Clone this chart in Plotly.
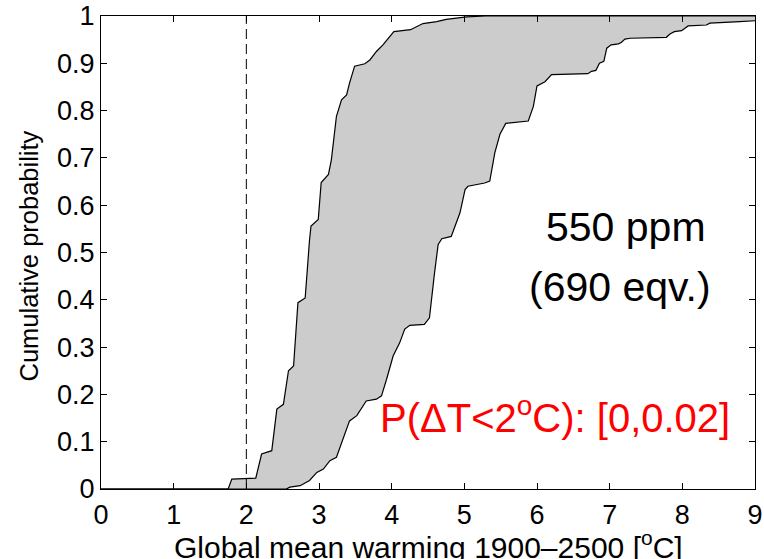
import plotly.graph_objects as go

# Upper bound CDF (left curve)
hi_x = [0, 1.75, 1.80, 2.13, 2.21, 2.35, 2.42, 2.51, 2.58, 2.65, 2.71, 2.81, 2.87, 2.89,
        2.99, 3.03, 3.13, 3.17, 3.24, 3.31, 3.38, 3.42, 3.49, 3.63, 3.70, 3.79, 3.88,
        3.95, 4.03, 4.26, 4.43, 4.62, 4.75, 5.03, 5.30, 9.0]
hi_y = [0, 0, 0.021, 0.023, 0.074, 0.081, 0.169, 0.179, 0.25, 0.26, 0.394, 0.404, 0.527,
        0.556, 0.57, 0.648, 0.665, 0.696, 0.788, 0.823, 0.833, 0.858, 0.894, 0.899, 0.907,
        0.925, 0.939, 0.953, 0.967, 0.971, 0.984, 0.988, 0.993, 0.998, 1.0, 1.0]

# Lower bound CDF (right curve)
lo_x = [0, 2.55, 2.60, 2.74, 2.87, 2.97, 3.06, 3.15, 3.24, 3.33, 3.42, 3.52, 3.65, 3.79,
        3.86, 3.93, 4.02, 4.11, 4.18, 4.25, 4.45, 4.52, 4.57, 4.59, 4.64, 4.69, 4.82, 4.94,
        5.01, 5.05, 5.28, 5.35, 5.42, 5.49, 5.57, 5.88, 5.95, 6.00, 6.11, 6.20, 6.70, 6.75,
        6.81, 6.86, 6.92, 6.96, 7.02, 7.12, 7.16, 7.21, 7.28, 7.78, 7.83, 7.89, 7.99, 8.08,
        8.33, 8.38, 8.79, 9.0]
lo_y = [0, 0, 0.004, 0.007, 0.018, 0.035, 0.042, 0.06, 0.067, 0.105, 0.144, 0.155, 0.186,
        0.19, 0.197, 0.232, 0.281, 0.309, 0.338, 0.346, 0.348, 0.362, 0.436, 0.457, 0.517,
        0.529, 0.534, 0.584, 0.633, 0.64, 0.647, 0.651, 0.711, 0.75, 0.773, 0.778, 0.809,
        0.852, 0.861, 0.876, 0.878, 0.883, 0.885, 0.9, 0.904, 0.932, 0.939, 0.941, 0.944,
        0.951, 0.953, 0.955, 0.962, 0.967, 0.969, 0.979, 0.981, 0.985, 0.988, 0.99]

x_ticks = list(range(0, 10))
y_ticks = [0, 0.1, 0.2, 0.3, 0.4, 0.5, 0.6, 0.7, 0.8, 0.9, 1]
y_ticklabels = ["0", "0.1", "0.2", "0.3", "0.4", "0.5", "0.6", "0.7", "0.8", "0.9", "1"]
threshold = 2

FONT = "Liberation Sans, Arial, sans-serif"

fig = go.Figure()
fig.add_trace(go.Scatter(
    x=hi_x + lo_x[::-1], y=hi_y + lo_y[::-1], mode="lines", fill="toself",
    fillcolor="#cccccc", line=dict(width=0), hoverinfo="skip", showlegend=False))
fig.add_trace(go.Scatter(x=hi_x, y=hi_y, mode="lines",
                         line=dict(color="black", width=1.2), showlegend=False))
fig.add_trace(go.Scatter(x=lo_x, y=lo_y, mode="lines",
                         line=dict(color="black", width=1.2), showlegend=False))
fig.add_trace(go.Scatter(x=[threshold, threshold], y=[0, 1], mode="lines",
                         line=dict(color="black", width=1, dash="10px,5px"),
                         showlegend=False))

fig.add_annotation(x=7.22, y=0.552, text="550 ppm", showarrow=False, yshift=1,
                   font=dict(family=FONT, size=41, color="black"),
                   xanchor="center", yanchor="middle")
fig.add_annotation(x=7.14, y=0.42, text="(690 eqv.)", showarrow=False, yshift=3,
                   font=dict(family=FONT, size=41, color="black"),
                   xanchor="center", yanchor="middle")
fig.add_annotation(x=6.25, y=0.152, text="P(ΔT<2<sup>o</sup>C): [0,0.02]", showarrow=False,
                   yshift=2, font=dict(family=FONT, size=40, color="red"),
                   xanchor="center", yanchor="middle")

# Axis titles as annotations for precise placement
fig.add_annotation(x=0.5, y=0, xref="paper", yref="paper", yshift=-35,
                   text="Global mean warming 1900–2500 [<sup>o</sup>C]", showarrow=False,
                   font=dict(family=FONT, size=30, color="black"),
                   xanchor="center", yanchor="top")
fig.add_annotation(x=0, y=0.5, xref="paper", yref="paper", xshift=-73, yshift=-4,
                   text="Cumulative probability", showarrow=False, textangle=-90,
                   font=dict(family=FONT, size=25.5, color="black"),
                   xanchor="center", yanchor="middle")

axis_common = dict(showline=True, linecolor="black", linewidth=1, mirror="ticks",
                   ticks="inside", ticklen=6, tickcolor="black", showgrid=False,
                   zeroline=False, automargin=False,
                   tickfont=dict(family=FONT, size=27, color="black"))

fig.update_xaxes(range=[0, 9], tickvals=x_ticks, ticklabelstandoff=2, **axis_common)
fig.update_yaxes(range=[0, 1], tickvals=y_ticks, ticktext=y_ticklabels, **axis_common)

fig.update_layout(width=764, height=559, margin=dict(l=101, r=9, t=16, b=70),
                  plot_bgcolor="white", paper_bgcolor="white")

fig.write_html("out.html")
